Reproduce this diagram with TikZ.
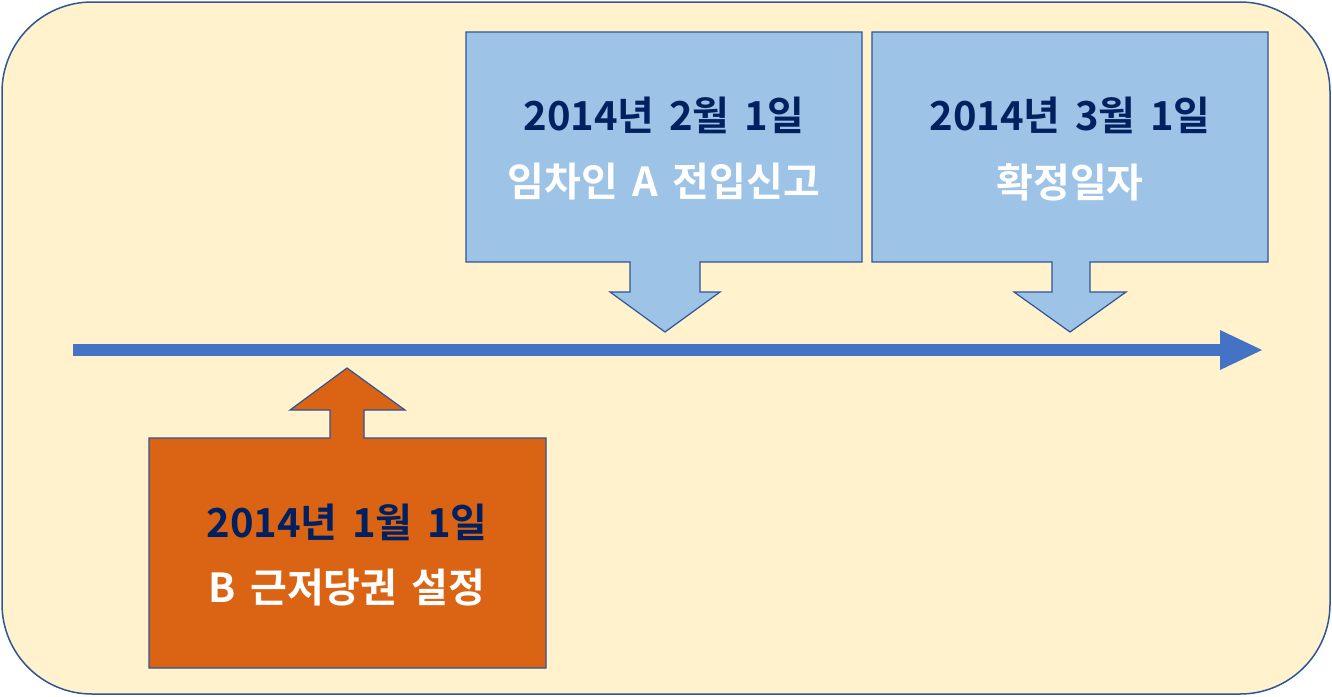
\documentclass[tikz,border=0pt]{standalone}
\usepackage{fontspec}
\setmainfont{Noto Sans CJK KR}[BoldFont={Noto Sans CJK KR Bold},WordSpace=1.6]
\definecolor{bg}{HTML}{FFF2CC}
\definecolor{bd}{HTML}{2F5597}
\definecolor{lb}{HTML}{9DC3E6}
\definecolor{tl}{HTML}{4472C4}
\definecolor{orng}{HTML}{DA6413}
\definecolor{navy}{HTML}{002060}
\begin{document}
\begin{tikzpicture}[x=1pt,y=-1pt,
  callout/.style={draw=bd,line width=1.2pt},
  t1/.style={font=\bfseries\fontsize{40}{46}\selectfont,text=navy,inner sep=0},
  t2/.style={font=\bfseries\fontsize{40}{46}\selectfont,text=white,inner sep=0}]
\useasboundingbox (0,0) rectangle (1332,696);
\draw[fill=bg,draw=bd,line width=1.5pt,rounded corners=90pt] (2,2) rectangle (1330,694);
% callout 1
\draw[callout,fill=lb] (466,32) -- (862,32) -- (862,262) -- (700,262) -- (700,292) -- (720,292) -- (665,332) -- (610,292) -- (630,292) -- (630,262) -- (466,262) -- cycle;
% callout 2
\draw[callout,fill=lb] (872,32) -- (1268,32) -- (1268,262) -- (1090,262) -- (1090,292) -- (1126,292) -- (1070,332) -- (1014,292) -- (1052,292) -- (1052,262) -- (872,262) -- cycle;
% orange
\draw[callout,fill=orng] (149,668) -- (546,668) -- (546,438) -- (364,438) -- (364,410) -- (405,410) -- (347,368) -- (290,410) -- (330,410) -- (330,438) -- (149,438) -- cycle;
% timeline
\coordinate (ts) at (73,350);
\coordinate (te) at (1222,350);
\draw[tl,line width=12pt] (ts) -- (te);
\fill[tl] (1220,330) -- (1262,350) -- (1220,370) -- cycle;
\node[t1] (a1) at (664,115) {2014년 2월 1일};
\node[t2] (a2) at (664,182) {임차인 A 전입신고};
\node[t1] (b1) at (1070,115) {2014년 3월 1일};
\node[t2] (b2) at (1070,182) {확정일자};
\node[t1] (c1) at (347,522) {2014년 1월 1일};
\node[t2] (c2) at (347,588) {B 근저당권 설정};
\end{tikzpicture}
\end{document}
